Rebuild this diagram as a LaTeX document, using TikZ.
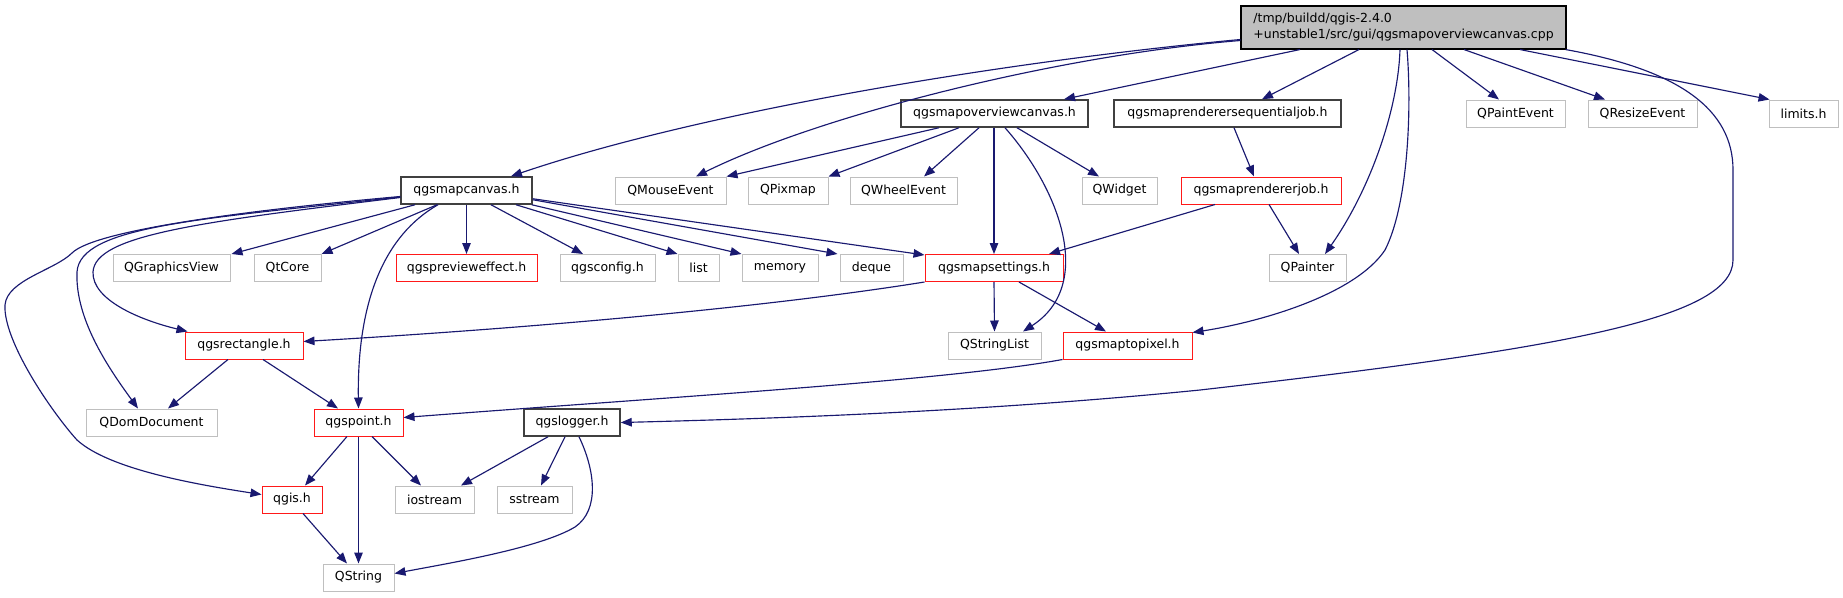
\documentclass[tikz,border=0pt]{standalone}
\usepackage{fontspec}
\setmainfont{DejaVu Sans}
\usetikzlibrary{arrows.meta,calc}
\definecolor{edgeblue}{HTML}{191970}
\definecolor{boxgray}{HTML}{BFBFBF}

\begin{document}
\begin{tikzpicture}[x=1pt,y=-1pt,font=\fontsize{12.5}{16}\selectfont,>={Triangle[length=11pt,width=8.5pt]}]
\tikzset{box/.style={rectangle,minimum height=27pt,inner sep=0pt,anchor=center}, doc/.style={box,draw=black!75,line width=1.5pt}, trunc/.style={box,draw=red!90!white,line width=1pt}, ext/.style={box,draw=boxgray,line width=1pt}, dep/.style={->,line width=1.15pt,draw=edgeblue}}
\useasboundingbox (0,0) rectangle (1843,597);
% the file itself
\node[box,draw=black,fill=boxgray,line width=1.1pt,minimum width=325pt,minimum height=43pt,align=left] (root) at (1403.5,27.5) {/tmp/buildd/qgis-2.4.0\\+unstable1/src/gui/qgsmapoverviewcanvas.cpp};
% documented headers
\node[doc,minimum width=131pt] (mapcanvas) at (466.5,190.5) {qgsmapcanvas.h};
\node[doc,minimum width=187pt] (overview) at (994.5,113.5) {qgsmapoverviewcanvas.h};
\node[doc,minimum width=227pt] (seqjob) at (1227.5,113.5) {qgsmaprenderersequentialjob.h};
\node[doc,minimum width=96pt] (logger) at (572,422.5) {qgslogger.h};
% truncated headers
\foreach \n/\x/\y/\w/\t in {previeweffect/466.5/268/141/{qgspreview\kern0pt effect.h},mapsettings/994/268/138/{qgsmapsettings.h},rendererjob/1261/190.5/160/{qgsmaprendererjob.h},rectangle/244/345.5/118/{qgsrectangle.h},maptopixel/1127.5/345.5/129/{qgsmaptopixel.h},point/358.5/422.5/89/{qgspoint.h},qgis/292/499.5/60/{qgis.h}}{\node[trunc,minimum width=\w pt] (\n) at (\x,\y) {\t};}
% external headers
\foreach \n/\x/\y/\w/\t in {paintevent/1515.5/113.5/99/QPaintEvent,resizeevent/1642.5/113.5/109/QResizeEvent,limits/1803.5/113.5/69/limits.h,mouseevent/670.5/190.5/111/QMouseEvent,pixmap/788/190.5/80/QPixmap,wheelevent/903.5/190.5/107/QWheelEvent,widget/1119.5/190.5/75/QWidget,graphicsview/171.5/268/117/QGraphicsView,qtcore/287.5/268/67/QtCore,config/607.5/268/95/qgsconfig.h,list/698.5/268/41/list,memory/780/268/76/memory,deque/871.5/268/63/deque,painter/1307.5/268/77/QPainter,stringlist/994.5/345.5/93/QStringList,domdocument/151.5/422.5/131/QDomDocument,iostream/434.5/499.5/79/iostream,sstream/534.5/499.5/75/sstream,qstring/358.5/577.5/71/QString}{\node[ext,minimum width=\w pt] (\n) at (\x,\y) {\t};}
% includes of the file
\draw[dep] ([yshift=-12pt]root.west) .. controls (1000,62) and (700,112) .. ([xshift=44.5pt]mapcanvas.north);
\draw[dep] ([yshift=-13pt]root.west) .. controls (1060,55) and (820,115) .. ([xshift=25.5pt]mouseevent.north);
\draw[dep] ([xshift=-103.5pt]root.south) -- ([xshift=69.5pt]overview.north);
\draw[dep] ([xshift=-44.5pt]root.south) -- ([xshift=34.5pt]seqjob.north);
\draw[dep] ([xshift=-3.5pt]root.south) .. controls (1398,110) and (1370,190) .. ([xshift=17.5pt]painter.north);
\draw[dep] ([xshift=3.5pt]root.south) .. controls (1412,110) and (1408,205) .. (1385,250) .. controls (1355,295) and (1260,322) .. ([yshift=-1pt]maptopixel.north east);
\draw[dep] ([xshift=-1pt]root.south east) .. controls (1680,70) and (1733,110) .. (1733,170) -- (1733,260) .. controls (1733,320) and (1550,350) .. (1200,390) .. controls (1000,410) and (800,418) .. (logger.east);
\draw[dep] ([xshift=28.5pt]root.south) -- ([xshift=-16.5pt]paintevent.north);
\draw[dep] ([xshift=60.5pt]root.south) -- ([xshift=-37.5pt]resizeevent.north);
\draw[dep] ([xshift=116.5pt]root.south) -- ([xshift=1pt]limits.north west);
% qgsmapoverviewcanvas.h
\draw[dep] ([xshift=-55.5pt]overview.south) -- (mouseevent.north east);
\draw[dep] ([xshift=-35.5pt]overview.south) -- (pixmap.north east);
\draw[dep] ([xshift=-15.5pt]overview.south) -- ([xshift=20.5pt]wheelevent.north);
\draw[dep] ([xshift=-0.5pt]overview.south) -- (mapsettings.north);
\draw[dep] ([xshift=10.5pt]overview.south) .. controls (1060,190) and (1095,285) .. ([xshift=28.5pt]stringlist.north);
\draw[dep] ([xshift=22.5pt]overview.south) -- ([xshift=-20.5pt]widget.north);
\draw[dep] ([xshift=6.5pt]seqjob.south) -- ([xshift=-7pt]rendererjob.north);
\draw[dep] ([xshift=-46pt]rendererjob.south) -- ([xshift=55pt]mapsettings.north);
\draw[dep] ([xshift=8pt]rendererjob.south) -- ([xshift=-8.5pt]painter.north);
% qgsmapcanvas.h
\draw[dep] ([xshift=-51.5pt]mapcanvas.south) -- ([xshift=60pt]graphicsview.north);
\draw[dep] ([xshift=-29.5pt]mapcanvas.south) -- (qtcore.north east);
\draw[dep] (mapcanvas.south) -- (previeweffect.north);
\draw[dep] ([xshift=24.5pt]mapcanvas.south) -- ([xshift=-24.5pt]config.north);
\draw[dep] ([xshift=49.5pt]mapcanvas.south) -- (list.north west);
\draw[dep] ([xshift=-1pt]mapcanvas.south east) -- (memory.north west);
\draw[dep] ([yshift=5pt]mapcanvas.south east) -- ([xshift=-2pt]deque.north west);
\draw[dep] ([yshift=6pt]mapcanvas.south east) -- ([yshift=-1pt]mapsettings.north west);
\draw[dep] ([xshift=-28.5pt]mapcanvas.south) .. controls (385,235) and (357,300) .. (point.north);
\draw[dep] ([yshift=-7pt]mapcanvas.west) .. controls (200,222) and (95,235) .. (93,272) .. controls (92,300) and (140,320) .. ([xshift=3pt]rectangle.north west);
\draw[dep] ([yshift=-6.5pt]mapcanvas.west) .. controls (200,219) and (80,226) .. (77,272) .. controls (75,320) and (110,370) .. ([xshift=-13.5pt]domdocument.north);
\draw[dep] ([yshift=-6pt]mapcanvas.west) .. controls (250,210) and (95,230) .. (72,253) .. controls (55,270) and (7,280) .. (5,305) .. controls (3,340) and (50,410) .. (77,440) .. controls (110,470) and (200,485) .. ([yshift=5pt]qgis.west);
% lower levels
\draw[dep] (mapsettings.south) -- (stringlist.north);
\draw[dep] ([xshift=25pt]mapsettings.south) -- ([xshift=-21.5pt]maptopixel.north);
\draw[dep] (mapsettings.south west) .. controls (750,310) and (500,330) .. ([yshift=4pt]rectangle.east);
\draw[dep] (maptopixel.south west) .. controls (950,380) and (700,395) .. ([yshift=5pt]point.east);
\draw[dep] ([xshift=-16pt]rectangle.south) -- ([xshift=16.5pt]domdocument.north);
\draw[dep] ([xshift=19pt]rectangle.south) -- ([xshift=-20.5pt]point.north);
\draw[dep] ([xshift=-11.5pt]point.south) -- ([xshift=13pt]qgis.north);
\draw[dep] (point.south) -- (qstring.north);
\draw[dep] ([xshift=13.5pt]point.south) -- ([xshift=-13.5pt]iostream.north);
\draw[dep] ([xshift=-24pt]logger.south) -- ([xshift=26.5pt]iostream.north);
\draw[dep] ([xshift=-7pt]logger.south) -- ([xshift=6.5pt]sstream.north);
\draw[dep] ([xshift=7pt]logger.south) .. controls (595,470) and (600,510) .. (575,527) .. controls (540,548) and (450,563) .. ([yshift=4pt]qstring.east);
\draw[dep] ([xshift=11pt]qgis.south) -- ([xshift=-11.5pt]qstring.north);
\end{tikzpicture}
\end{document}
